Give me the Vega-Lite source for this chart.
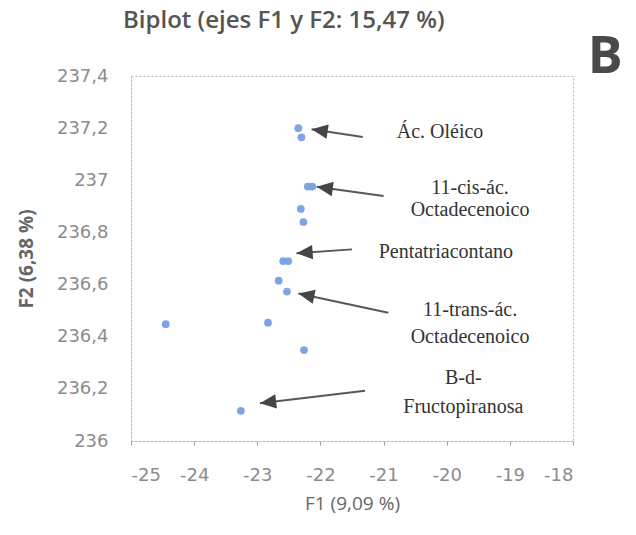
{
  "$schema": "https://vega.github.io/schema/vega-lite/v6.json",
  "width": 442,
  "height": 365,
  "autosize": {"type": "none"},
  "padding": {"left": 131, "top": 76, "right": 63, "bottom": 94},
  "background": "white",
  "config": {
    "locale": {
      "number": {"decimal": ",", "thousands": ".", "grouping": [3], "currency": ["", " €"], "minus": "-"}
    },
    "view": {"stroke": "#b8b8b8", "strokeDash": [2, 2], "strokeWidth": 1},
    "axis": {
      "grid": false,
      "domainColor": "#b8b8b8",
      "domainDash": [2, 2],
      "tickColor": "#a0a0a0",
      "labelFont": "DejaVu Sans",
      "labelFontSize": 18,
      "labelColor": "#8c8c8c",
      "titleFont": "Open Sans",
      "titleColor": "#666666"
    }
  },
  "title": {
    "text": "Biplot (ejes F1 y F2: 15,47 %)",
    "anchor": "start",
    "frame": "group",
    "offset": -2,
    "dx": -8,
    "font": "Open Sans",
    "fontSize": 24,
    "fontWeight": 600,
    "color": "#555555"
  },
  "datasets": {
    "scores": [
      {"f1": -22.35, "f2": 237.2},
      {"f1": -22.3, "f2": 237.165},
      {"f1": -22.2, "f2": 236.976},
      {"f1": -22.13, "f2": 236.976},
      {"f1": -22.31, "f2": 236.89},
      {"f1": -22.27, "f2": 236.84},
      {"f1": -22.59, "f2": 236.69},
      {"f1": -22.51, "f2": 236.69},
      {"f1": -22.66, "f2": 236.615},
      {"f1": -22.53, "f2": 236.573},
      {"f1": -24.45, "f2": 236.448},
      {"f1": -22.83, "f2": 236.454},
      {"f1": -22.26, "f2": 236.349},
      {"f1": -23.26, "f2": 236.116}
    ],
    "arrows": [
      {"name": "Ác. Oléico", "f1": -22.14, "f2": 237.196, "tailF1": -21.33, "tailF2": 237.166},
      {"name": "11-cis-ác. Octadecenoico", "f1": -22.06, "f2": 236.975, "tailF1": -21.0, "tailF2": 236.94},
      {"name": "Pentatriacontano", "f1": -22.38, "f2": 236.72, "tailF1": -21.5, "tailF2": 236.735},
      {"name": "11-trans-ác. Octadecenoico", "f1": -22.35, "f2": 236.566, "tailF1": -20.925, "tailF2": 236.492},
      {"name": "B-d-Fructopiranosa", "f1": -22.957, "f2": 236.145, "tailF1": -21.294, "tailF2": 236.193}
    ],
    "labels": [
      {"text": "Ác. Oléico", "f1": -20.106, "f2": 237.186},
      {"text": "11-cis-ác.", "f1": -19.63, "f2": 236.969},
      {"text": "Octadecenoico", "f1": -19.63, "f2": 236.886},
      {"text": "Pentatriacontano", "f1": -20.014, "f2": 236.726},
      {"text": "11-trans-ác.", "f1": -19.63, "f2": 236.502},
      {"text": "Octadecenoico", "f1": -19.63, "f2": 236.4},
      {"text": "B-d-", "f1": -19.737, "f2": 236.24},
      {"text": "Fructopiranosa", "f1": -19.737, "f2": 236.131}
    ],
    "panel": [
      {"tag": "B", "f1": -17.49, "f2": 237.41}
    ]
  },
  "encoding": {
    "x": {
      "field": "f1",
      "type": "quantitative",
      "scale": {"domain": [-25, -18], "nice": false, "zero": false},
      "axis": {
        "values": [-25, -24, -23, -22, -21, -20, -19, -18],
        "format": "d",
        "tickSize": 4,
        "labelPadding": 21,
        "title": "F1 (9,09 %)",
        "titleFontSize": 19,
        "titleFontWeight": "normal",
        "titlePadding": 10
      }
    },
    "y": {
      "field": "f2",
      "type": "quantitative",
      "scale": {"domain": [236, 237.4], "nice": false, "zero": false},
      "axis": {
        "values": [236, 236.2, 236.4, 236.6, 236.8, 237, 237.2, 237.4],
        "format": ".1~f",
        "ticks": false,
        "labelPadding": 23,
        "title": "F2 (6,38 %)",
        "titleFontSize": 19,
        "titleFontWeight": "bold",
        "titlePadding": 20
      }
    }
  },
  "layer": [
    {
      "data": {"name": "scores"},
      "mark": {"type": "circle", "size": 60, "color": "#76a0e4", "opacity": 0.95}
    },
    {
      "data": {"name": "arrows"},
      "mark": {"type": "rule", "color": "#585858", "strokeWidth": 2},
      "encoding": {
        "x2": {"field": "tailF1"},
        "y2": {"field": "tailF2"}
      }
    },
    {
      "data": {"name": "arrows"},
      "transform": [
        {"calculate": "atan2((datum.f1 - datum.tailF1) * 63.14, (datum.f2 - datum.tailF2) * 260.7) * 180 / PI", "as": "heading"}
      ],
      "mark": {
        "type": "point",
        "shape": "M0,0L0.8,1.8L-0.8,1.8Z",
        "size": 324,
        "filled": true,
        "color": "#454545",
        "opacity": 1
      },
      "encoding": {
        "angle": {"field": "heading", "type": "quantitative", "scale": null}
      }
    },
    {
      "data": {"name": "labels"},
      "mark": {
        "type": "text",
        "font": "Liberation Serif",
        "fontSize": 20,
        "color": "#333333",
        "align": "center",
        "baseline": "middle"
      },
      "encoding": {
        "text": {"field": "text"}
      }
    },
    {
      "data": {"name": "panel"},
      "mark": {
        "type": "text",
        "font": "Open Sans",
        "fontSize": 52,
        "fontWeight": "bold",
        "color": "#4a4a4a",
        "align": "center",
        "baseline": "alphabetic"
      },
      "encoding": {
        "text": {"field": "tag"}
      }
    }
  ]
}
